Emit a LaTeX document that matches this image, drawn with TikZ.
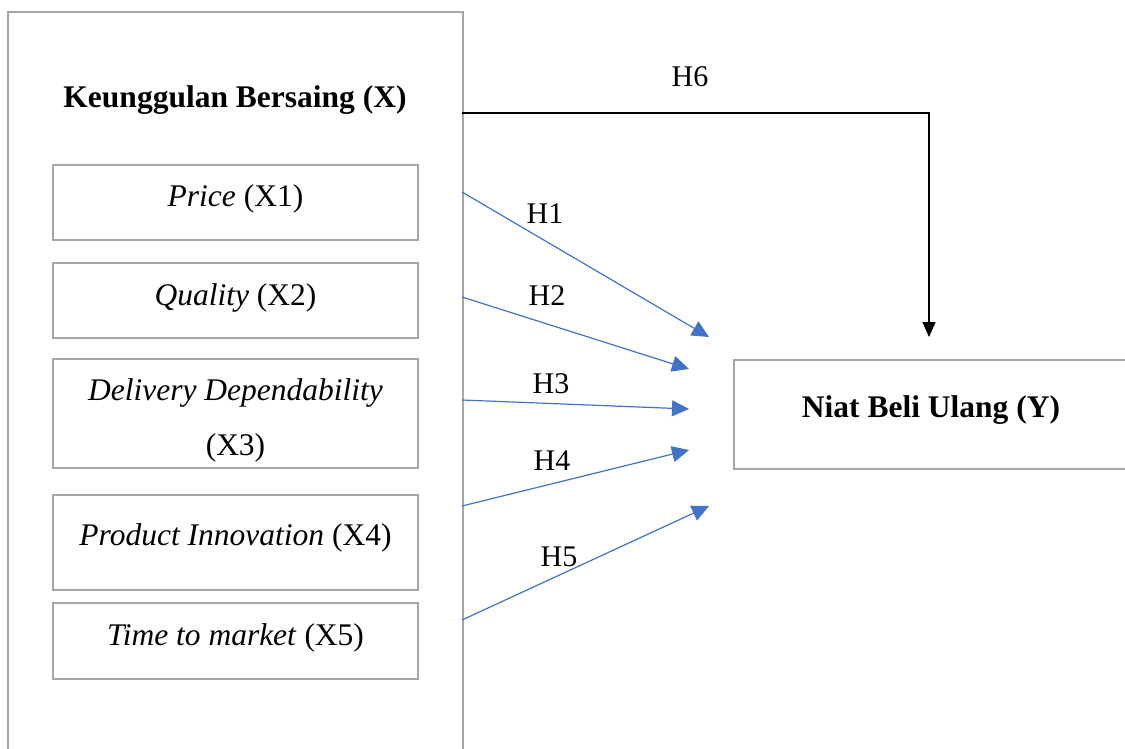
\documentclass[tikz,border=0pt]{standalone}
\usepackage{fontspec}
\setmainfont{Liberation Serif}
\usetikzlibrary{arrows.meta}
\definecolor{boxgray}{HTML}{A6A6A6}
\definecolor{arrblue}{HTML}{4472C4}
\begin{document}
\begin{tikzpicture}[x=1pt,y=-1pt,
  frame/.style={draw=boxgray,line width=2.4pt,inner sep=0pt,anchor=north west},
  ibox/.style={draw=boxgray,line width=2.2pt,minimum width=365pt,inner sep=0pt},
  txt/.style={font=\fontsize{31.5}{36}\selectfont,inner sep=0pt,anchor=base},
  hl/.style={font=\fontsize{30}{34}\selectfont,inner sep=0pt,anchor=base},
  barr/.style={draw=arrblue,line width=1.2pt,-{Triangle[length=17pt,width=16pt]}},
  karr/.style={draw=black,line width=1.5pt,-{Triangle[length=15pt,width=13pt]}}]
\clip (0,0) rectangle (1125,749);
\fill[white] (0,0) rectangle (1125,749);
% outer box
\node[frame, minimum width=455pt, minimum height=800pt] (outer) at (7,11) {};
\node[txt] (title) at (235,108) {\textbf{Keunggulan Bersaing (X)}};
% inner boxes
\node[ibox, minimum height=75pt] (b1) at (235.5,202.5) {};
\node[ibox, minimum height=75pt] (b2) at (235.5,300.5) {};
\node[ibox, minimum height=109pt] (b3) at (235.5,413.5) {};
\node[ibox, minimum height=95pt] (b4) at (235.5,542.5) {};
\node[ibox, minimum height=76pt] (b5) at (235.5,641) {};
\node[txt] (t1) at (235.5,207) {\textit{Price} (X1)};
\node[txt] (t2) at (235.5,305.5) {\textit{Quality} (X2)};
\node[txt] (t3a) at (235.5,400.5) {\textit{Delivery Dependability}};
\node[txt] (t3b) at (235.5,455) {(X3)};
\node[txt] (t4) at (235.5,545.5) {\textit{Product Innovation} (X4)};
\node[txt] (t5) at (235.5,645) {\textit{Time to market} (X5)};
% dependent box
\node[frame, minimum width=420pt, minimum height=109pt] (y) at (733,359) {};
\node[txt] (ty) at (931,417) {\textbf{Niat Beli Ulang (Y)}};
% arrow endpoints
\coordinate (s1) at (462,192);
\coordinate (s2) at (462,297);
\coordinate (s3) at (462,400);
\coordinate (s4) at (462,506);
\coordinate (s5) at (462,620);
\coordinate (s6) at (462,113);
\coordinate (e1) at (709,337);
\coordinate (e2) at (689,369);
\coordinate (e3) at (689,409);
\coordinate (e4) at (689,450);
\coordinate (e5) at (709,506);
\coordinate (e6) at (929,337);
\draw[barr] (s1) -- (e1);
\draw[barr] (s2) -- (e2);
\draw[barr] (s3) -- (e3);
\draw[barr] (s4) -- (e4);
\draw[barr] (s5) -- (e5);
\draw[karr] (s6) -| (e6);
% labels
\node[hl] (h1) at (545,223) {H1};
\node[hl] (h2) at (547,305) {H2};
\node[hl] (h3) at (551,393) {H3};
\node[hl] (h4) at (552,470) {H4};
\node[hl] (h5) at (559,566) {H5};
\node[hl] (h6) at (690,87) {H6};
\end{tikzpicture}
\end{document}
